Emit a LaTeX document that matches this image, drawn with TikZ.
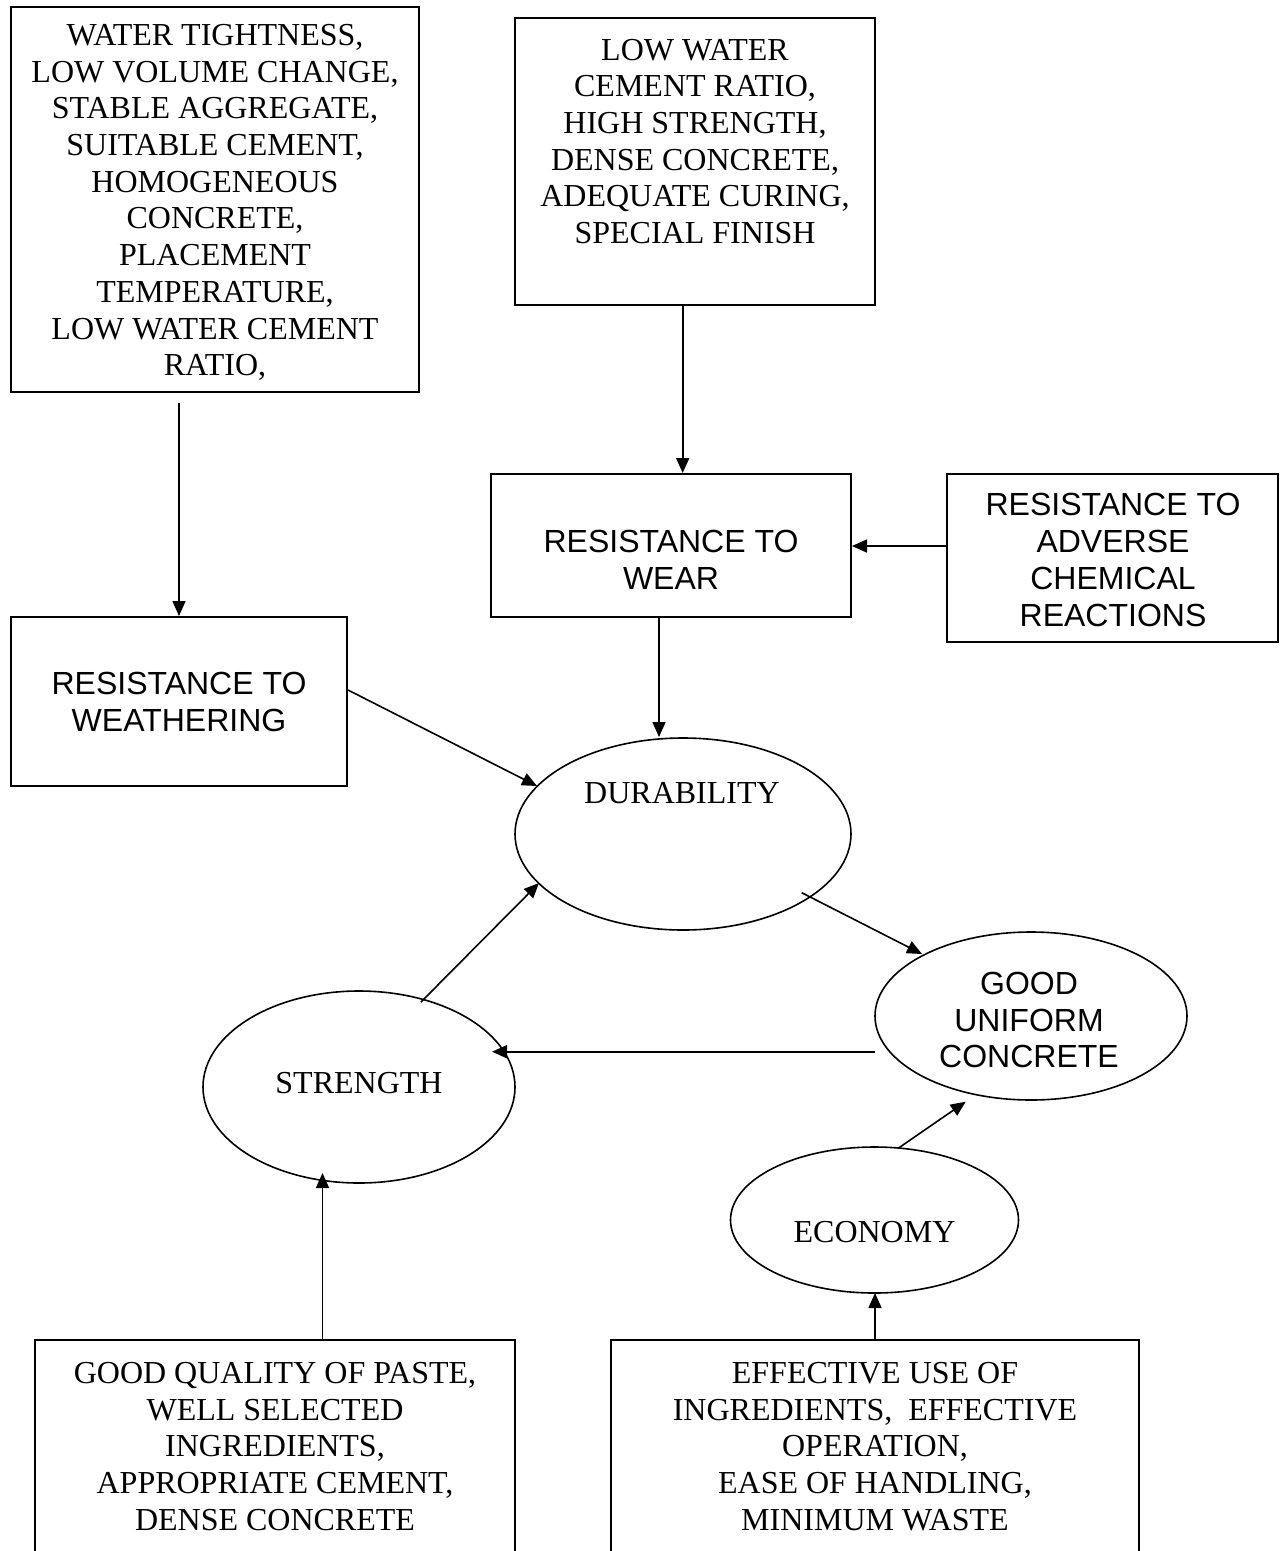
\documentclass[tikz,border=0pt]{standalone}
\usepackage{fontspec}
\setmainfont{Liberation Serif}
\newfontfamily\sansf{Liberation Sans}
\usetikzlibrary{shapes.geometric,arrows.meta}
\tikzset{
  frame/.style={draw, line width=2pt, rectangle, inner sep=0pt},
  oval/.style={draw, line width=1.6pt, ellipse, inner sep=0pt},
  serif/.style={align=center, inner sep=0pt, font=\fontsize{32}{36.7}\selectfont},
  sans/.style={align=center, inner sep=0pt, font=\sansf\fontsize{32}{36.7}\selectfont},
  arr/.style={line width=1.6pt, -{Triangle[length=15pt,width=13pt]}}
}
\begin{document}
\begin{tikzpicture}[x=1pt,y=-1pt]
\useasboundingbox (0,0) rectangle (1280,1551);
\clip (0,0) rectangle (1280,1551);
% frames
\node[frame, minimum width=408.3pt, minimum height=384.7pt] (box1) at (214.9,199.3) {};
\node[frame, minimum width=360pt, minimum height=287pt] (box2) at (695,161.5) {};
\node[frame, minimum width=360pt, minimum height=143pt] (wear) at (671,545.5) {};
\node[frame, minimum width=331pt, minimum height=168pt] (chem) at (1112.5,558) {};
\node[frame, minimum width=336pt, minimum height=169pt] (weather) at (179,701.5) {};
\node[frame, minimum width=480pt, minimum height=260pt] (bl) at (275,1470) {};
\node[frame, minimum width=528pt, minimum height=260pt] (br) at (875,1470) {};
% ellipses
\node[oval, minimum width=336pt, minimum height=192pt] (dur) at (683,834) {};
\node[oval, minimum width=312pt, minimum height=168pt] (gu) at (1031,1016) {};
\node[oval, minimum width=312pt, minimum height=192pt] (str) at (359,1087) {};
\node[oval, minimum width=288pt, minimum height=146pt] (eco) at (874.5,1220) {};
% texts
\node[serif] (t1) at (215,202.5) {WATER TIGHTNESS,\\LOW VOLUME CHANGE,\\STABLE AGGREGATE,\\SUITABLE CEMENT,\\HOMOGENEOUS\\CONCRETE,\\PLACEMENT\\TEMPERATURE,\\LOW WATER CEMENT\\RATIO,};
\node[serif] (t2) at (695,141.5) {LOW WATER\\CEMENT RATIO,\\HIGH STRENGTH,\\DENSE CONCRETE,\\ADEQUATE CURING,\\SPECIAL FINISH};
\node[sans] (t3) at (671,560) {RESISTANCE TO\\WEAR};
\node[sans] (t4) at (1113,560) {RESISTANCE TO\\ADVERSE\\CHEMICAL\\REACTIONS};
\node[sans] (t5) at (179,702) {RESISTANCE TO\\WEATHERING};
\node[serif] (t6) at (682,793) {DURABILITY};
\node[sans] (t7) at (1029,1020) {GOOD\\UNIFORM\\CONCRETE};
\node[serif] (t8) at (359,1083) {STRENGTH};
\node[serif] (t9) at (874.5,1231.7) {ECONOMY};
\node[serif] (t10) at (275,1446.5) {GOOD QUALITY OF PASTE,\\WELL SELECTED\\INGREDIENTS,\\APPROPRIATE CEMENT,\\DENSE CONCRETE};
\node[serif] (t11) at (875,1446.5) {EFFECTIVE USE OF\\INGREDIENTS,\ \ EFFECTIVE\\OPERATION,\\EASE OF HANDLING,\\MINIMUM WASTE};
% connectors
\draw[arr] ([shift={(-35.9,10)}]box1.south) -- (weather.north);
\draw[arr] ([shift={(-12.3,0)}]box2.south) -- ([shift={(11.7,0)}]wear.north);
\draw[arr] ([shift={(0,-12)}]chem.west) -- ([shift={(0,0.5)}]wear.east);
\draw[arr] ([shift={(-12,0)}]wear.south) -- ([shift={(-24,-97)}]dur.center);
\draw[arr] ([shift={(0,-11.5)}]weather.east) -- ([shift={(-146,-48)}]dur.center);
\draw[arr] ([shift={(62,-85)}]str.center) -- ([shift={(-144,49)}]dur.center);
\draw[arr] ([shift={(118.7,58.7)}]dur.center) -- ([shift={(-109,-62)}]gu.center);
\draw[arr] ([shift={(-156.5,35.7)}]gu.center) -- ([shift={(133,-35.3)}]str.center);
\draw[arr] ([shift={(24.5,-72.3)}]eco.center) -- ([shift={(-65.3,85.7)}]gu.center);
\draw[arr] ([shift={(47.5,0)}]bl.north) -- ([shift={(-36.5,86)}]str.center);
\draw[arr] (br.north) -- ([shift={(0.5,73)}]eco.center);
\end{tikzpicture}
\end{document}
